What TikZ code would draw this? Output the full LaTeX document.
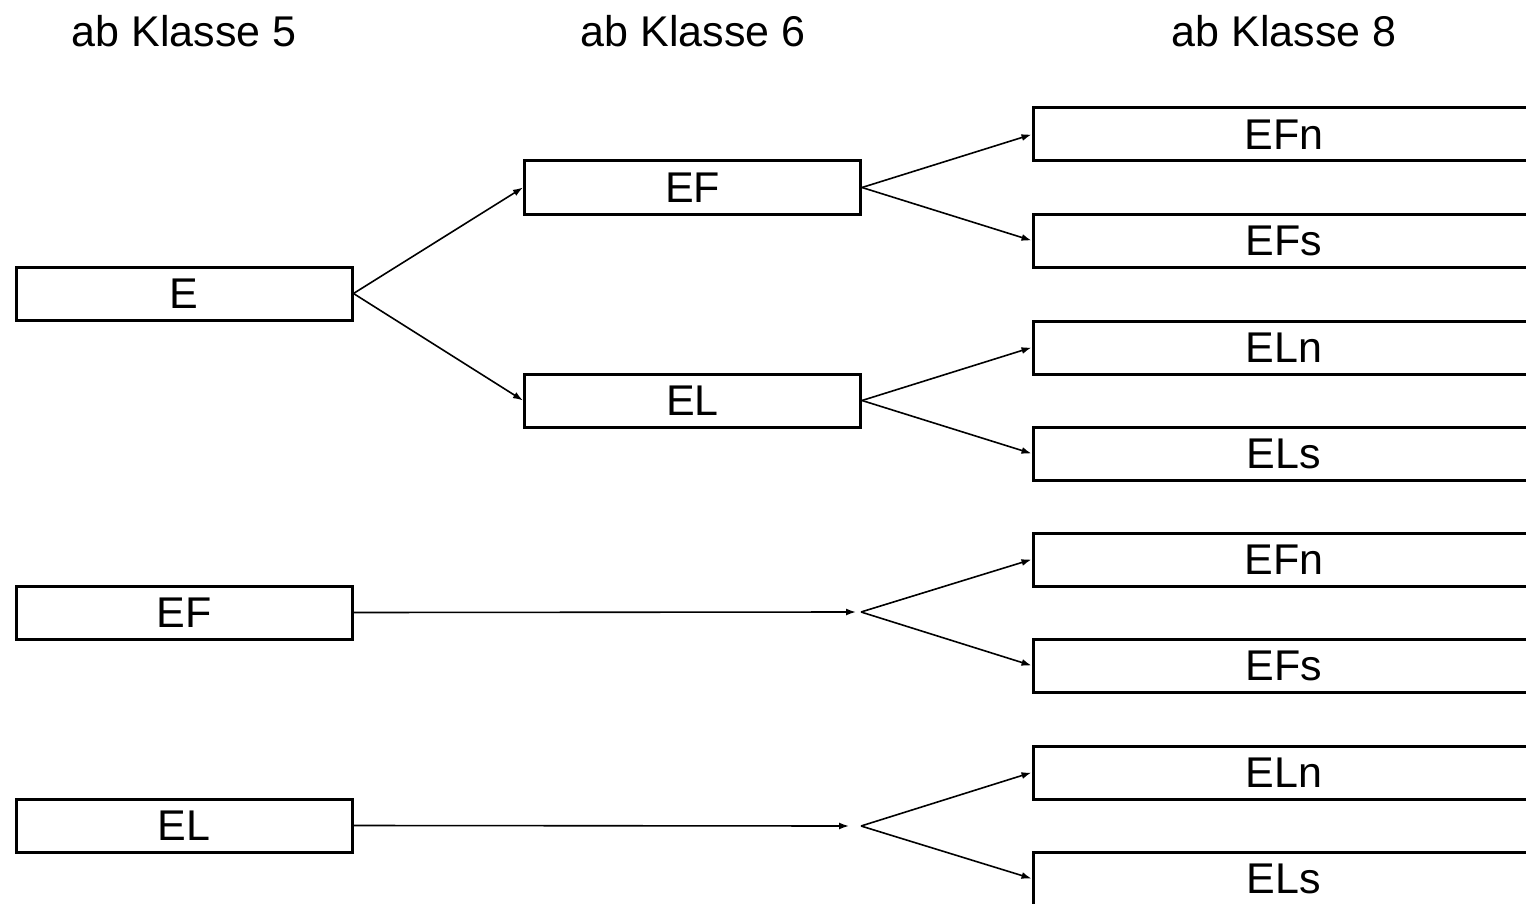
\documentclass[tikz,border=0pt]{standalone}
\usepackage{fontspec}
\setmainfont{Liberation Sans}
\usetikzlibrary{arrows.meta}
\begin{document}
\begin{tikzpicture}[x=0.5pt,y=-0.5pt,
  box/.style={draw,line width=1.5pt,rectangle,minimum width=168pt,minimum height=26.5pt,inner sep=0pt,font=\fontsize{21.5}{24}\selectfont},
  wbox/.style={box,minimum width=251pt},
  head/.style={font=\fontsize{21.5}{24}\selectfont,inner sep=0pt},
  conn/.style={line width=0.8pt,-{Latex[length=5pt,width=3.5pt]}},
  plain/.style={line width=0.8pt}]
\clip (0,0) rectangle (1526,904);
\fill[white] (0,0) rectangle (1526,904);
% headers
\node[head] (h5) at (184,31) {ab Klasse 5};
\node[head] (h6) at (693,31) {ab Klasse 6};
\node[head] (h8) at (1284,31) {ab Klasse 8};
% column 1
\node[box] (e) at (184,293.5) {E};
\node[box] (ef1) at (184,612.5) {EF};
\node[box] (el1) at (184,825.5) {EL};
% column 2
\node[box] (ef2) at (692.5,187.5) {EF};
\node[box] (el2) at (692.5,400.5) {EL};
% column 3
\node[wbox] (efn1) at (1284,134.5) {EFn};
\node[wbox] (efs1) at (1284,240.5) {EFs};
\node[wbox] (eln1) at (1284,347.5) {ELn};
\node[wbox] (els1) at (1284,453.5) {ELs};
\node[wbox] (efn2) at (1284,559.5) {EFn};
\node[wbox] (efs2) at (1284,665.5) {EFs};
\node[wbox] (eln2) at (1284,772.5) {ELn};
\node[wbox] (els2) at (1284,878.5) {ELs};
% junctions
\coordinate (j1) at (861,612);
\coordinate (a1) at (856,612);
\coordinate (j2) at (861,826);
\coordinate (a2) at (849,826);
% connectors
\draw[conn] (e.east) -- (ef2.west);
\draw[conn] (e.east) -- (el2.west);
\draw[conn] (ef2.east) -- (efn1.west);
\draw[conn] (ef2.east) -- (efs1.west);
\draw[conn] (el2.east) -- (eln1.west);
\draw[conn] (el2.east) -- (els1.west);
\draw[conn] (ef1.east) -- (a1);
\draw[conn] (j1) -- (efn2.west);
\draw[conn] (j1) -- (efs2.west);
\draw[conn] (el1.east) -- (a2);
\draw[conn] (j2) -- (eln2.west);
\draw[conn] (j2) -- (els2.west);
\end{tikzpicture}
\end{document}
